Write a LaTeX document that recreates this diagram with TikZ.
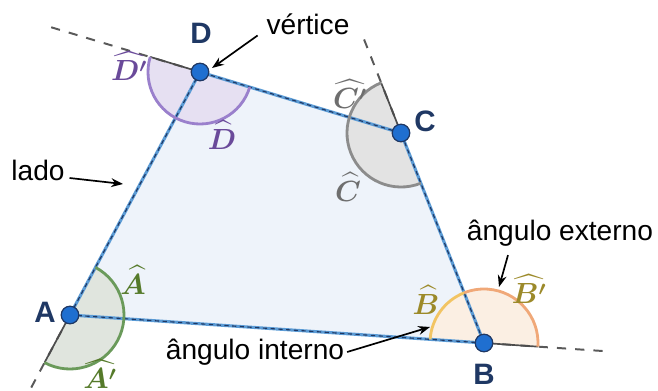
\documentclass[tikz,border=0pt]{standalone}
\usepackage{amsmath}
\usepackage{fontspec}
\setmainfont{Liberation Sans}
\usetikzlibrary{arrows.meta}

\definecolor{navy}{HTML}{1F3864}
\definecolor{dotblue}{HTML}{1F6FD0}
\definecolor{sideblue}{HTML}{5B9BD5}
\definecolor{polyfill}{HTML}{EEF3FA}
\definecolor{agreen}{HTML}{6A9A5A}
\definecolor{agreenfill}{HTML}{E0E5DE}
\definecolor{agreentext}{HTML}{557A2A}
\definecolor{byellow}{HTML}{F2C463}
\definecolor{borange}{HTML}{F0A878}
\definecolor{bfill}{HTML}{FBEFE3}
\definecolor{btext}{HTML}{9C8A2A}
\definecolor{cgray}{HTML}{8C8C8C}
\definecolor{cfill}{HTML}{E3E3E3}
\definecolor{ctext}{HTML}{6E6E6E}
\definecolor{dpurple}{HTML}{9A80CC}
\definecolor{dfill}{HTML}{E6E0F2}
\definecolor{dtext}{HTML}{6A4A9A}

\begin{document}
\begin{tikzpicture}[x=0.025cm,y=0.025cm,>=Stealth,
    font=\fontsize{20}{24}\selectfont,
    vertex/.style={circle,fill=dotblue,draw=navy,line width=0.9pt,inner sep=0pt,minimum size=12.5pt},
    vlabel/.style={text=navy,font=\fontsize{21}{24}\selectfont\bfseries},
    alabel/.style={font=\fontsize{20}{22}\selectfont,inner sep=1pt},
    side/.style={sideblue,line width=2.2pt},
    sidedash/.style={navy,line width=0.8pt,dash pattern=on 3pt off 2.5pt},
    ext/.style={black!65,line width=1.4pt,dash pattern=on 6.5pt off 6.5pt},
    edge/.style={black!70,line width=1.2pt},
    arc/.style={line width=2pt},
    note/.style={->,line width=1.2pt}]
  \useasboundingbox (0,0) rectangle (658,390);
  \coordinate (A) at (70,75);
  \coordinate (B) at (484,47);
  \coordinate (C) at (401,257);
  \coordinate (D) at (200,318);
  \coordinate (eA) at (31,2);
  \coordinate (eB) at (610,38.5);
  \coordinate (eC) at (363.5,352);
  \coordinate (eD) at (47,364);
  % polygon
  \fill[polyfill] (A) -- (B) -- (C) -- (D) -- cycle;
  % angle sectors
  \fill[agreenfill] (A) -- ++(-118.14:54) arc[start angle=-118.14,end angle=61.86,radius=54] -- cycle;
  \fill[bfill] (B) -- ++(-3.87:54) arc[start angle=-3.87,end angle=176.13,radius=54] -- cycle;
  \fill[cfill] (C) -- ++(111.57:54) arc[start angle=111.57,end angle=291.57,radius=54] -- cycle;
  \fill[dfill] (D) -- ++(163.12:52) arc[start angle=163.12,end angle=343.12,radius=52] -- cycle;
  % extensions
  \draw[ext] (A) -- (eA);
  \draw[ext] (B) -- (eB);
  \draw[ext] (C) -- (eC);
  \draw[ext] (D) -- (eD);
  \draw[edge] (A) -- ++(-118.14:54);
  \draw[edge] (B) -- ++(-3.87:54);
  \draw[edge] (C) -- ++(111.57:54);
  \draw[edge] (D) -- ++(163.12:52);
  % sides
  \draw[side] (A) -- (B) -- (C) -- (D) -- cycle;
  \draw[sidedash] (A) -- (B) -- (C) -- (D) -- cycle;
  % arcs
  \draw[arc,agreen] (A) ++(-118.14:54) arc[start angle=-118.14,end angle=61.86,radius=54];
  \draw[arc,borange] (B) ++(-3.87:54) arc[start angle=-3.87,end angle=111.57,radius=54];
  \draw[arc,byellow] (B) ++(111.57:54) arc[start angle=111.57,end angle=176.13,radius=54];
  \draw[arc,cgray] (C) ++(111.57:54) arc[start angle=111.57,end angle=291.57,radius=54];
  \draw[arc,dpurple] (D) ++(163.12:52) arc[start angle=163.12,end angle=343.12,radius=52];
  % vertices
  \node[vertex] (vA) at (A) {};
  \node[vertex] (vB) at (B) {};
  \node[vertex] (vC) at (C) {};
  \node[vertex] (vD) at (D) {};
  \node[vlabel] (lA) at (45,78) {A};
  \node[vlabel] (lB) at (484,16) {B};
  \node[vlabel] (lC) at (425,269) {C};
  \node[vlabel] (lD) at (201,357) {D};
  % angle names
  \node[alabel,text=agreentext] (nA) at (133,110) {$\boldsymbol{\widehat{A}}$};
  \node[alabel,text=agreentext] (nA2) at (100,16) {$\boldsymbol{\widehat{A'}}$};
  \node[alabel,text=btext] (nB) at (426,90) {$\boldsymbol{\widehat{B}}$};
  \node[alabel,text=btext] (nB2) at (529,101) {$\boldsymbol{\widehat{B'}}$};
  \node[alabel,text=ctext] (nC2) at (350,296) {$\boldsymbol{\widehat{C'}}$};
  \node[alabel,text=ctext] (nC) at (348,203) {$\boldsymbol{\widehat{C}}$};
  \node[alabel,text=dtext] (nD2) at (129,324) {$\boldsymbol{\widehat{D'}}$};
  \node[alabel,text=dtext] (nD) at (222,255) {$\boldsymbol{\widehat{D}}$};
  % notes
  \node (vert) at (308,366) {vértice};
  \node (lado) at (38,220) {lado};
  \node (extn) at (560,157) {ângulo externo};
  \node (intn) at (255,38) {ângulo interno};
  \coordinate (tVert) at (212,322);
  \coordinate (tLado) at (123,206);
  \coordinate (tExt) at (499,103);
  \coordinate (tInt) at (430,63);
  \draw[note] (vert.south west) ++(-4,4) -- (tVert);
  \draw[note] (lado.east) ++(0,-8) -- (tLado);
  \draw[note] (extn.south) ++(-52,-4) -- (tExt);
  \draw[note] (intn.east) ++(-2,0) -- (tInt);
\end{tikzpicture}
\end{document}
